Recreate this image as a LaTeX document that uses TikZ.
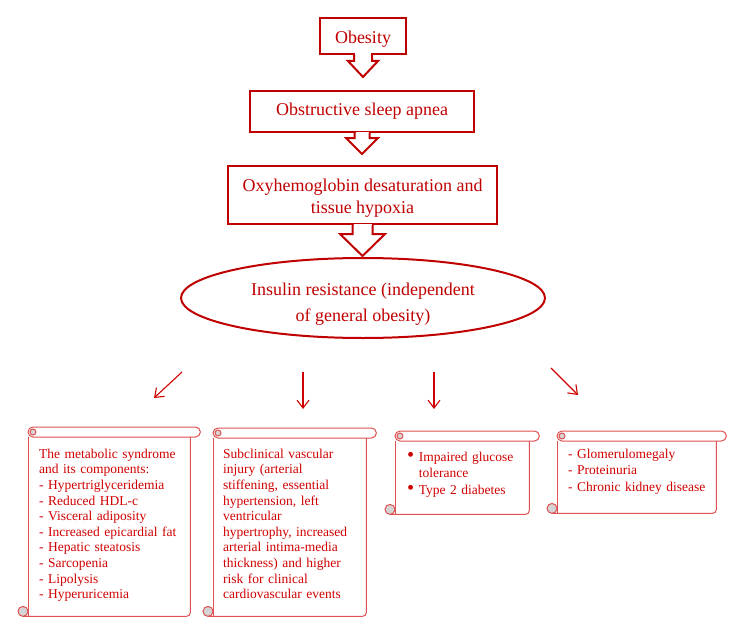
\documentclass[tikz,border=0pt]{standalone}
\usepackage{fontspec}
\setmainfont{Liberation Serif}
\usepackage{tikz}
\usetikzlibrary{arrows.meta,calc,shapes.geometric}

\definecolor{boxred}{HTML}{C00000}
\definecolor{textred}{HTML}{D00000}
\definecolor{scrollred}{HTML}{E05050}
\definecolor{curlgray}{HTML}{D4D4D4}

\tikzset{
	callout/.style = {draw = boxred, line width = 2pt, text = boxred, align = center, inner sep = 0pt,
			font = \fontsize{18}{22}\selectfont},
	scrollbox/.style = {anchor = north west, text = textred, align = left, inner ysep = 5pt, text height = 12pt,
			font = \fontsize{13.5}{15.6}\selectfont},
	scrollline/.style = {draw = scrollred, line width = 1pt},
	thin arrow/.style = {draw = textred, line width = 1.1pt, -{Straight Barb[length=8pt,width=12pt]}}
}

\newcommand{\redbullet}{\scalebox{1.5}{\textbullet}}

% outline arrow under a callout box: node, stem half width, stem length, head half width, head length
\newcommand{\calloutarrow}[5]{
	\fill [white] ($(#1.south)+(-#2+1,1.5)$) rectangle ($(#1.south)+(#2-1,-1.5)$);
	\draw [draw = boxred, line width = 2pt, line join = miter] ($(#1.south)+(-#2,0)$) -- ++(0,-#3)
		-- ++(#2-#4,0) -- ++(#4,-#5) -- ++(#4,#5) -- ++(#2-#4,0) -- ++(0,#3);
}

% scroll frame round a scrollbox node
\newcommand{\scrollframe}[1]{
	\draw [scrollline] (#1.north west) -- (#1.south west);
	\draw [scrollline, rounded corners = 4pt] ($(#1.south west)+(-5pt,0)$) -- (#1.south east) -- (#1.north east);
	\draw [scrollline, fill = curlgray] ($(#1.south west)+(-5pt,5pt)$) circle [radius = 5pt];
	\draw [scrollline, fill = white, rounded corners = 5pt] (#1.north west) rectangle ($(#1.north east)+(10pt,10pt)$);
	\draw [scrollline, fill = curlgray] ($(#1.north west)+(5pt,5pt)$) circle [radius = 3pt];
}

\begin{document}
\begin{tikzpicture}[x = 1pt, y = 1pt]
	\useasboundingbox (0,0) rectangle (752,-642);

	% Nodes
	\node (obesity) [callout, minimum width = 86pt, minimum height = 36pt, text height = 19pt] at (363,-36) {Obesity};
	\node (osa) [callout, minimum width = 224pt, minimum height = 41pt] at (362,-111.5) {Obstructive sleep apnea};
	\node (hypoxia) [callout, minimum width = 269pt, minimum height = 58pt, text height = 40.5pt] at (362.5,-195)
		{Oxyhemoglobin desaturation and\\tissue hypoxia};
	\node (insulin) [ellipse, draw = boxred, line width = 2pt, text = boxred, align = center, inner sep = 0pt,
		minimum width = 364pt, minimum height = 80pt, text height = 51pt, font = \fontsize{18}{26}\selectfont] at (363,-298)
		{Insulin resistance (independent\\of general obesity)};

	\node (metabolic) [scrollbox, inner xsep = 11pt, text width = 140pt, text height = 16pt, text depth = 153pt] at (28,-437)
		{The metabolic syndrome\\and its components:\\- Hypertriglyceridemia\\- Reduced HDL-c\\- Visceral adiposity\\- Increased epicardial fat\\- Hepatic steatosis\\- Sarcopenia\\- Lipolysis\\- Hyperuricemia};
	\node (vascular) [scrollbox, inner xsep = 10pt, text width = 133pt, text height = 15pt, text depth = 153pt] at (213,-438)
		{Subclinical vascular\\injury (arterial\\stiffening, essential\\hypertension, left\\ventricular\\hypertrophy, increased\\arterial intima-media\\thickness) and higher\\risk for clinical\\cardiovascular events};
	\node (glucose) [scrollbox, inner xsep = 12pt, text width = 110pt, inner ysep = 8pt, text depth = 45pt,
		font = \fontsize{13.5}{16.5}\selectfont] at (395,-441)
		{\redbullet\ Impaired glucose\\\phantom{\redbullet\ }tolerance\\\redbullet\ Type 2 diabetes};
	\node (kidney) [scrollbox, inner xsep = 11pt, text width = 137pt, text depth = 50pt,
		font = \fontsize{13.5}{16.5}\selectfont] at (557,-441)
		{- Glomerulomegaly\\- Proteinuria\\\mbox{- Chronic kidney disease}};

	\coordinate (m1s) at (182,-372);
	\coordinate (m1e) at (154,-398);
	\coordinate (m2s) at (303,-372);
	\coordinate (m2e) at (303,-409);
	\coordinate (m3s) at (434,-372);
	\coordinate (m3e) at (434,-409);
	\coordinate (m4s) at (551,-368);
	\coordinate (m4e) at (578,-395);

	% Scrolls
	\scrollframe{metabolic}
	\scrollframe{vascular}
	\scrollframe{glucose}
	\scrollframe{kidney}

	% Arrows
	\calloutarrow{obesity}{9}{6}{15}{16}
	\calloutarrow{osa}{7.5}{5}{16}{16}
	\calloutarrow{hypoxia}{10}{9}{22.5}{22}
	\draw [thin arrow] (m1s) -- (m1e);
	\draw [thin arrow] (m2s) -- (m2e);
	\draw [thin arrow] (m3s) -- (m3e);
	\draw [thin arrow] (m4s) -- (m4e);
\end{tikzpicture}
\end{document}
